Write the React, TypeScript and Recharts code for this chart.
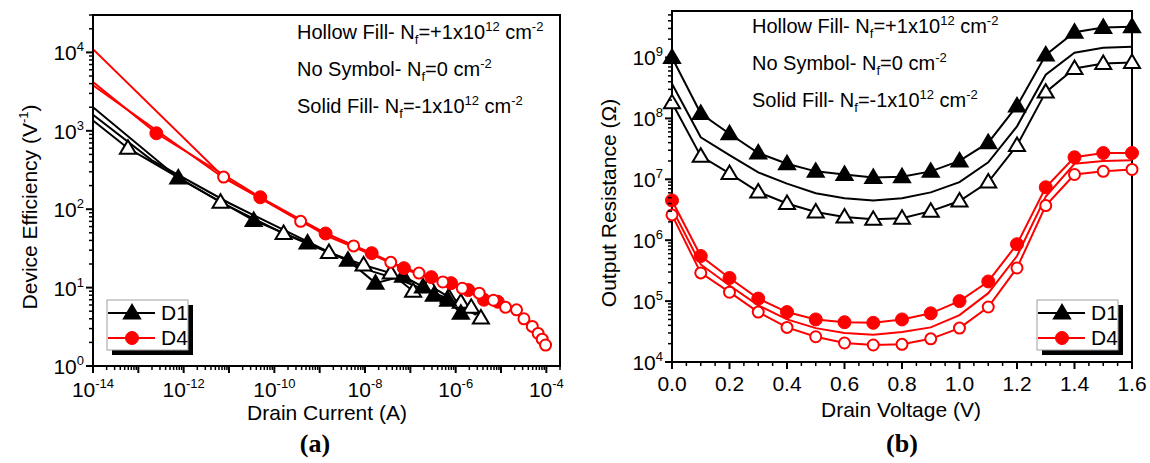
import React from 'react';
import { LineChart, Line, XAxis, YAxis, ReferenceArea } from 'recharts';

const FONT = '"Liberation Sans", Arial, Helvetica, sans-serif';
const RED = '#ff0000';
const BLACK = '#000000';

// ---- (a) device efficiency vs drain current ----
const d1SolidCurrent = [1e-14, 7.6e-13, 3.5e-11, 5.4e-10, 4.2e-9, 1.7e-8, 6.9e-8, 1.9e-7, 3.3e-7, 6.8e-7, 1.3e-6];
const d1SolidEff = [2000, 250, 72, 37, 22.4, 11.4, 14, 10.2, 8, 6.9, 4.7];

const d1HollowCurrent = [1e-14, 5.9e-14, 6.5e-12, 1.6e-10, 1.6e-9, 9.3e-9, 3.7e-8, 1.15e-7, 2.6e-7, 7e-7, 1.3e-6, 2.2e-6, 3.6e-6];
const d1HollowEff = [1350, 600, 123, 49, 28, 19.4, 15.3, 9, 10.7, 7.6, 6.5, 5.6, 4.1];

const d1PlainCurrent = [1e-14, 2e-13, 1e-11, 2.5e-10, 2.5e-9, 1.5e-8, 6e-8, 2e-7, 5e-7, 1e-6, 1.8e-6, 2.8e-6];
const d1PlainEff = [1600, 420, 120, 48, 25, 16, 12.5, 9.5, 7.8, 6.2, 5.2, 4.5];

const d4SolidCurrent = [1e-14, 2.5e-13, 4.9e-11, 1.35e-9, 1.4e-8, 7.2e-8, 2.9e-7, 7.9e-7, 1.9e-6, 4.2e-6, 8.5e-6];
const d4SolidEff = [4200, 930, 142, 49, 27.5, 17.7, 13.6, 11.4, 9.3, 7.0, 6.6];

const d4HollowCurrent = [1e-14, 7.6e-12, 3.8e-10, 5.6e-9, 3.7e-8, 1.55e-7, 5.2e-7, 1.4e-6, 3.3e-6, 6.8e-6, 1.26e-5, 2.2e-5, 3.2e-5, 4.9e-5, 6.6e-5, 8.1e-5, 9.6e-5];
const d4HollowEff = [11000, 257, 70, 34, 21, 15.3, 11.8, 9.8, 8.5, 6.9, 5.6, 5.2, 4.0, 3.2, 2.6, 2.2, 1.85];

const d4PlainCurrent = [1e-14, 7.6e-12, 1e-10, 1.5e-9, 1.5e-8, 8e-8, 3.5e-7, 1.1e-6, 3e-6, 6e-6, 1e-5];
const d4PlainEff = [3800, 250, 110, 45, 26, 17, 12.5, 10, 8, 6.7, 5.6];

// ---- (b) output resistance vs drain voltage ----
const drainVoltage = [0, 0.1, 0.2, 0.3, 0.4, 0.5, 0.6, 0.7, 0.8, 0.9, 1.0, 1.1, 1.2, 1.3, 1.4, 1.5, 1.6];
const d1SolidRout = [1e9, 1.2e8, 5.6e7, 2.7e7, 1.8e7, 1.35e7, 1.2e7, 1.07e7, 1.1e7, 1.35e7, 2e7, 4e7, 1.6e8, 1.1e9, 2.6e9, 3.1e9, 3.2e9];
const d1HollowRout = [1.8e8, 2.4e7, 1.25e7, 6.2e6, 4e6, 2.9e6, 2.4e6, 2.2e6, 2.3e6, 3e6, 4.4e6, 9e6, 3.6e7, 2.7e8, 6.6e8, 8e8, 8.3e8];
const d1PlainRout = [3.7e8, 4.9e7, 2.5e7, 1.3e7, 8.5e6, 5.9e6, 4.9e6, 4.5e6, 4.9e6, 6.1e6, 9e6, 1.9e7, 7.4e7, 5.2e8, 1.2e9, 1.45e9, 1.5e9];
const d4SolidRout = [4.5e6, 5.5e5, 2.4e5, 1.1e5, 6.6e4, 5e4, 4.5e4, 4.4e4, 5e4, 6.3e4, 1e5, 2.1e5, 8.6e5, 7.4e6, 2.3e7, 2.7e7, 2.7e7];
const d4HollowRout = [2.6e6, 2.9e5, 1.4e5, 6.6e4, 3.7e4, 2.6e4, 2.05e4, 1.9e4, 1.95e4, 2.4e4, 3.6e4, 8e4, 3.5e5, 3.7e6, 1.2e7, 1.35e7, 1.45e7];
const d4PlainRout = [3.3e6, 4e5, 1.8e5, 8.5e4, 5e4, 3.6e4, 3e4, 2.8e4, 3.1e4, 3.7e4, 5.9e4, 1.35e5, 5.5e5, 5.2e6, 1.8e7, 2e7, 2.05e7];

// ---- axis ticks ----
const currentDomain = [1e-14, 2e-4];
const currentMajors = [1e-14, 1e-13, 1e-12, 1e-11, 1e-10, 1e-9, 1e-8, 1e-7, 1e-6, 1e-5, 1e-4];
const effDomain = [1, 3e4];
const effMajors = [1, 10, 100, 1000, 10000];
const routDomain = [1e4, 5.8e9];
const routMajors = [1e4, 1e5, 1e6, 1e7, 1e8, 1e9];
const voltageDomain = [0, 1.6];

const withMinors = (majors: number[], max: number) => {
  const out: number[] = [];
  majors.forEach((m) => {
    for (let k = 1; k <= 9; k++) {
      const v = m * k;
      if (v <= max * 1.0001) out.push(v);
    }
  });
  return out;
};
const currentTicks = withMinors(currentMajors, currentDomain[1]);
const effTicks = withMinors(effMajors, effDomain[1]);
const routTicks = withMinors(routMajors, routDomain[1]);
const voltageTicks = Array.from({ length: 33 }, (_, i) => Number((i * 0.05).toFixed(2)));

const zip = (xs: number[], ys: number[]) => xs.map((x, i) => ({ x, y: ys[i] }));

// ---- markers ----
function Marker({ cx, cy, shape, color, filled }: any) {
  if (cx == null || cy == null) return null;
  if (shape === 'tri') {
    const pts = `${cx},${cy - 8} ${cx - 8},${cy + 5.5} ${cx + 8},${cy + 5.5}`;
    return <polygon points={pts} fill={filled ? color : '#fff'} stroke={color} strokeWidth={2} strokeLinejoin="miter" />;
  }
  return filled ? (
    <circle cx={cx} cy={cy} r={6.5} fill={color} stroke={color} strokeWidth={1} />
  ) : (
    <circle cx={cx} cy={cy} r={5.5} fill="#fff" stroke={color} strokeWidth={2} />
  );
}

// curves in (a) enter from the left edge of the axis: no symbol there
const dot = (name: string, shape: string, color: string, filled: boolean, xMin?: number) => (p: any) =>
  xMin != null && p.payload && p.payload.x <= xMin ? (
    <g key={`${name}-${p.index}`} />
  ) : (
    <Marker key={`${name}-${p.index}`} cx={p.cx} cy={p.cy} shape={shape} color={color} filled={filled} />
  );

// ---- ticks ----
const isDecade = (v: number) => {
  const e = Math.round(Math.log10(v));
  return { e, major: Math.abs(v / Math.pow(10, e) - 1) < 1e-6 };
};

const LogXTick = (props: any) => {
  const { x, y, payload } = props;
  const { e, major } = isDecade(payload.value);
  return (
    <g>
      <line x1={x} x2={x} y1={y} y2={y + (major ? 7 : 4)} stroke={BLACK} strokeWidth={major ? 2 : 1.5} />
      {major && e % 2 === 0 && (
        <text x={x} y={y + 31} textAnchor="middle" fontFamily={FONT} fontSize={21} fill={BLACK}>
          10<tspan dy={-9} fontSize={13}>{e}</tspan>
        </text>
      )}
    </g>
  );
};

const LogYTick = (props: any) => {
  const { x, y, payload } = props;
  const { e, major } = isDecade(payload.value);
  return (
    <g>
      <line x1={x} x2={x - (major ? 7 : 4)} y1={y} y2={y} stroke={BLACK} strokeWidth={major ? 2 : 1.5} />
      {major && (
        <text x={x - 9} y={y + 8} textAnchor="end" fontFamily={FONT} fontSize={21} fill={BLACK}>
          10<tspan dy={-9} fontSize={13}>{e}</tspan>
        </text>
      )}
    </g>
  );
};

const LinXTick = (props: any) => {
  const { x, y, payload } = props;
  const v = payload.value;
  const major = Math.abs(Math.round(v * 5) - v * 5) < 1e-6;
  return (
    <g>
      <line x1={x} x2={x} y1={y} y2={y + (major ? 7 : 4)} stroke={BLACK} strokeWidth={major ? 2 : 1.5} />
      {major && (
        <text x={x} y={y + 29} textAnchor="middle" fontFamily={FONT} fontSize={21} fill={BLACK}>
          {v.toFixed(1)}
        </text>
      )}
    </g>
  );
};

const axisLine = { stroke: BLACK, strokeWidth: 2 };

// ---- overlay texts ----
function NfNote({ x, y, lead, value, pow }: any) {
  return (
    <text x={x} y={y} fontFamily={FONT} fontSize={20} fill={BLACK}>
      {lead} N
      <tspan dy={5} fontSize={13}>f</tspan>
      <tspan dy={-5}>={value}</tspan>
      {pow && <tspan dy={-8} fontSize={13}>{pow}</tspan>}
      <tspan dy={pow ? 8 : 0}> cm</tspan>
      <tspan dy={-8} fontSize={13}>-2</tspan>
    </text>
  );
}

function Notes({ x, y }: any) {
  return (
    <g>
      <NfNote x={x} y={y} lead="Hollow Fill-" value="+1x10" pow="12" />
      <NfNote x={x} y={y + 37} lead="No Symbol-" value="0" />
      <NfNote x={x} y={y + 74} lead="Solid Fill-" value="-1x10" pow="12" />
    </g>
  );
}

const legendItems = [
  { name: 'D1', color: BLACK, shape: 'tri' },
  { name: 'D4', color: RED, shape: 'circle' },
];

function LegendBox({ x, y }: any) {
  return (
    <g>
      <rect x={x + 5} y={y + 5} width={81} height={50} fill={BLACK} />
      <rect x={x} y={y} width={81} height={50} fill="#fff" stroke="#a0a0a0" strokeWidth={1} />
      {legendItems.map((it, i) => {
        const ry = y + 13 + i * 25;
        return (
          <g key={it.name}>
            <line x1={x + 1} x2={x + 48} y1={ry} y2={ry} stroke={it.color} strokeWidth={2} />
            <Marker cx={x + 25} cy={ry} shape={it.shape} color={it.color} filled />
            <text x={x + 54} y={ry + 7} fontFamily={FONT} fontSize={21} fill={BLACK}>
              {it.name}
            </text>
          </g>
        );
      })}
    </g>
  );
}

export default function App() {
  const xMin = currentDomain[0];
  return (
    <div style={{ position: 'absolute', left: 0, top: 0, width: 1150, height: 463, background: '#fff' }}>
      {/* (a) */}
      <div style={{ position: 'absolute', left: 0, top: 0 }}>
        <LineChart width={580} height={420} margin={{ top: 15, right: 20, bottom: 14, left: 33 }}>
          <XAxis
            dataKey="x"
            type="number"
            scale="log"
            domain={currentDomain}
            allowDataOverflow
            ticks={currentTicks}
            interval={0}
            tick={LogXTick}
            tickLine={false}
            tickSize={0}
            tickMargin={0}
            height={40}
            axisLine={axisLine}
          />
          <YAxis
            type="number"
            scale="log"
            domain={effDomain}
            allowDataOverflow
            ticks={effTicks}
            interval={0}
            tick={LogYTick}
            tickLine={false}
            tickSize={0}
            tickMargin={0}
            width={60}
            axisLine={axisLine}
          />
          <ReferenceArea
            x1={currentDomain[0]}
            x2={currentDomain[1]}
            y1={effDomain[0]}
            y2={effDomain[1]}
            fill="none"
            stroke={BLACK}
            strokeWidth={2}
            ifOverflow="visible"
          />
          <Line data={zip(d1PlainCurrent, d1PlainEff)} dataKey="y" stroke={BLACK} strokeWidth={2} dot={false} isAnimationActive={false} />
          <Line data={zip(d1HollowCurrent, d1HollowEff)} dataKey="y" stroke={BLACK} strokeWidth={2} dot={dot('d1h', 'tri', BLACK, false, xMin)} isAnimationActive={false} />
          <Line data={zip(d1SolidCurrent, d1SolidEff)} dataKey="y" stroke={BLACK} strokeWidth={2} dot={dot('d1s', 'tri', BLACK, true, xMin)} isAnimationActive={false} />
          <Line data={zip(d4PlainCurrent, d4PlainEff)} dataKey="y" stroke={RED} strokeWidth={2} dot={false} isAnimationActive={false} />
          <Line data={zip(d4SolidCurrent, d4SolidEff)} dataKey="y" stroke={RED} strokeWidth={2} dot={dot('d4s', 'circle', RED, true, xMin)} isAnimationActive={false} />
          <Line data={zip(d4HollowCurrent, d4HollowEff)} dataKey="y" stroke={RED} strokeWidth={2} dot={dot('d4h', 'circle', RED, false, xMin)} isAnimationActive={false} />
        </LineChart>
      </div>

      {/* (b) */}
      <div style={{ position: 'absolute', left: 580, top: 0 }}>
        <LineChart width={570} height={420} margin={{ top: 11, right: 18, bottom: 18, left: 32 }}>
          <XAxis
            dataKey="x"
            type="number"
            domain={voltageDomain}
            ticks={voltageTicks}
            interval={0}
            tick={LinXTick}
            tickLine={false}
            tickSize={0}
            tickMargin={0}
            height={40}
            axisLine={axisLine}
          />
          <YAxis
            type="number"
            scale="log"
            domain={routDomain}
            allowDataOverflow
            ticks={routTicks}
            interval={0}
            tick={LogYTick}
            tickLine={false}
            tickSize={0}
            tickMargin={0}
            width={60}
            axisLine={axisLine}
          />
          <ReferenceArea
            x1={voltageDomain[0]}
            x2={voltageDomain[1]}
            y1={routDomain[0]}
            y2={routDomain[1]}
            fill="none"
            stroke={BLACK}
            strokeWidth={2}
            ifOverflow="visible"
          />
          <Line data={zip(drainVoltage, d1PlainRout)} dataKey="y" stroke={BLACK} strokeWidth={2} dot={false} isAnimationActive={false} />
          <Line data={zip(drainVoltage, d1HollowRout)} dataKey="y" stroke={BLACK} strokeWidth={2} dot={dot('rd1h', 'tri', BLACK, false)} isAnimationActive={false} />
          <Line data={zip(drainVoltage, d1SolidRout)} dataKey="y" stroke={BLACK} strokeWidth={2} dot={dot('rd1s', 'tri', BLACK, true)} isAnimationActive={false} />
          <Line data={zip(drainVoltage, d4PlainRout)} dataKey="y" stroke={RED} strokeWidth={2} dot={false} isAnimationActive={false} />
          <Line data={zip(drainVoltage, d4HollowRout)} dataKey="y" stroke={RED} strokeWidth={2} dot={dot('rd4h', 'circle', RED, false)} isAnimationActive={false} />
          <Line data={zip(drainVoltage, d4SolidRout)} dataKey="y" stroke={RED} strokeWidth={2} dot={dot('rd4s', 'circle', RED, true)} isAnimationActive={false} />
        </LineChart>
      </div>

      <svg width={1150} height={463} style={{ position: 'absolute', left: 0, top: 0, pointerEvents: 'none' }}>
        <Notes x={297} y={39} />
        <Notes x={752} y={33} />

        <text x={327} y={420} textAnchor="middle" fontFamily={FONT} fontSize={21} fill={BLACK}>
          Drain Current (A)
        </text>
        <text x={901} y={417} textAnchor="middle" fontFamily={FONT} fontSize={21} fill={BLACK}>
          Drain Voltage (V)
        </text>
        <text transform="translate(37,207) rotate(-90)" textAnchor="middle" fontFamily={FONT} fontSize={21} fill={BLACK}>
          Device Efficiency (V<tspan dy={-9} fontSize={13}>-1</tspan>
          <tspan dy={9}>)</tspan>
        </text>
        <text transform="translate(616,203) rotate(-90)" textAnchor="middle" fontFamily={FONT} fontSize={21} fill={BLACK}>
          Output Resistance (Ω)
        </text>

        <text x={315} y={452} textAnchor="middle" fontFamily='"Liberation Serif", "Times New Roman", serif' fontWeight="bold" fontSize={26} fill={BLACK}>
          (a)
        </text>
        <text x={902} y={452} textAnchor="middle" fontFamily='"Liberation Serif", "Times New Roman", serif' fontWeight="bold" fontSize={26} fill={BLACK}>
          (b)
        </text>

        <LegendBox x={107} y={300} />
        <LegendBox x={1037} y={300} />
      </svg>
    </div>
  );
}
